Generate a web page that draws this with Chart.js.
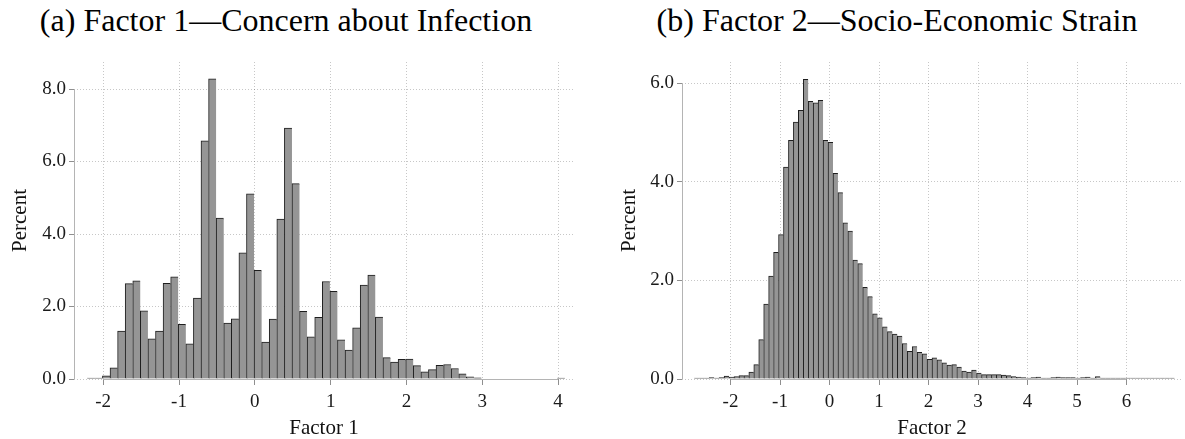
<!DOCTYPE html>
<html>
<head>
<meta charset="utf-8">
<script src="https://cdn.jsdelivr.net/npm/chart.js@4.4.1/dist/chart.umd.min.js"></script>
<style>
html, body { margin: 0; padding: 0; background: #ffffff; }
#wrap { position: relative; width: 1185px; height: 439px; overflow: hidden; background: #fff; }
canvas { position: absolute; top: 0; }
.ttl { position: absolute; top: 0px; font-family: "Liberation Serif", serif; font-size: 32px; line-height: 40px;
       color: #000; white-space: nowrap; transform: translateX(-50%); }
</style>
</head>
<body>
<div id="wrap">
  <div class="ttl" id="t1" style="left:286px"></div>
  <div class="ttl" id="t2" style="left:897px"></div>
  <canvas id="c1" width="590" height="439" style="left:0px"></canvas>
  <canvas id="c2" width="595" height="439" style="left:590px"></canvas>
</div>
<script>
// ---------- data ----------
const titleA = '(a) Factor 1\u2014Concern about Infection';
const titleB = '(b) Factor 2\u2014Socio-Economic Strain';
const xLabelA = 'Factor 1';
const xLabelB = 'Factor 2';
const yLabel = 'Percent';

// bin centres (bin width 0.1)
const factor1Bins = [
  -2.16,-2.06,-1.96,-1.86,-1.76,-1.66,-1.56,-1.46,-1.36,-1.26,
  -1.16,-1.06,-0.96,-0.86,-0.76,-0.66,-0.56,-0.46,-0.36,-0.26,
  -0.16,-0.06,0.04,0.14,0.24,0.34,0.44,0.54,0.64,0.74,
  0.84,0.94,1.04,1.14,1.24,1.34,1.44,1.54,1.64,1.74,
  1.84,1.94,2.04,2.14,2.24,2.34,2.44,2.54,2.64,2.74,
  2.84,2.94,3.04,3.14,3.24,3.34,3.44,3.54,3.64,3.74,
  3.84,3.94,4.04
];
const factor1Pct = [
  0.01,0.02,0.09,0.31,1.32,2.63,2.71,1.88,1.11,1.32,
  2.64,2.82,1.51,0.97,2.23,6.57,8.28,4.44,1.54,1.66,
  3.48,5.11,3.00,1.02,1.65,4.41,6.92,5.39,1.87,1.16,
  1.70,2.69,2.42,1.08,0.80,1.41,2.59,2.87,1.71,0.59,
  0.47,0.54,0.55,0.37,0.20,0.26,0.38,0.40,0.29,0.14,
  0.06,0.03,0,0,0,0,0,0,0,0,
  0,0,0.01
];
const factor2Bins = [
  -2.68,-2.58,-2.48,-2.38,-2.28,-2.18,-2.08,-1.98,-1.88,-1.78,
  -1.68,-1.58,-1.48,-1.38,-1.28,-1.18,-1.08,-0.98,-0.88,-0.78,
  -0.68,-0.58,-0.48,-0.38,-0.28,-0.18,-0.08,0.02,0.12,0.22,
  0.32,0.42,0.52,0.62,0.72,0.82,0.92,1.02,1.12,1.22,
  1.32,1.42,1.52,1.62,1.72,1.82,1.92,2.02,2.12,2.22,
  2.32,2.42,2.52,2.62,2.72,2.82,2.92,3.02,3.12,3.22,
  3.32,3.42,3.52,3.62,3.72,3.82,3.92,4.02,4.12,4.22,
  4.32,4.42,4.52,4.62,4.72,4.82,4.92,5.02,5.12,5.22,
  5.32,5.42,5.52,5.62,5.72,5.82,5.92,6.02,6.12,6.22,
  6.32,6.42,6.52,6.62,6.72,6.82,6.92
];
const factor2Pct = [
  0.01,0.01,0.01,0.03,0.015,0.03,0.06,0.04,0.05,0.07,
  0.07,0.14,0.29,0.80,1.52,2.09,2.57,2.93,4.30,4.84,
  5.21,5.45,6.08,5.63,5.60,5.65,4.84,4.80,4.17,3.78,
  3.17,3.00,2.41,2.34,1.86,1.67,1.32,1.24,1.06,0.96,
  0.91,0.87,0.72,0.56,0.66,0.54,0.51,0.40,0.43,0.39,
  0.33,0.28,0.29,0.24,0.16,0.14,0.18,0.12,0.09,0.09,
  0.09,0.09,0.08,0.07,0.05,0.04,0.03,0.02,0.03,0.04,
  0.02,0.02,0.03,0.04,0.03,0.03,0.03,0.02,0.03,0.04,
  0.02,0.05,0.02,0.02,0.01,0.01,0.02,0.01,0.01,0.01,
  0.01,0.005,0.01,0.005,0.005,0.01,0.005
];
const xTicksA = [-2,-1,0,1,2,3,4];
const yTicksA = [0,2,4,6,8];
const xTicksB = [-2,-1,0,1,2,3,4,5,6];
const yTicksB = [0,2,4,6];

document.getElementById('t1').textContent = titleA;
document.getElementById('t2').textContent = titleB;

// ---------- drawing ----------
const serif = 'Liberation Serif';
const gridColor = 'rgba(0,0,0,0.22)';
const axisColor = '#b4b4b4';

// Stata-style axis lines that run only from the first to the last tick
const axisLines = {
  id: 'axisLines',
  beforeDatasetsDraw(chart) {
    const { ctx, chartArea, scales } = chart;
    const x = scales.x, y = scales.y;
    const xt = x.ticks, yt = y.ticks;
    ctx.save();
    ctx.strokeStyle = axisColor;
    ctx.lineWidth = 1;
    ctx.setLineDash([]);
    const ax = Math.floor(chartArea.left) + 0.5;
    const ay = Math.floor(chartArea.bottom) + 0.5;
    ctx.beginPath();
    ctx.moveTo(ax, y.getPixelForValue(yt[0].value));
    ctx.lineTo(ax, y.getPixelForValue(yt[yt.length - 1].value));
    ctx.moveTo(x.getPixelForValue(xt[0].value), ay);
    ctx.lineTo(x.getPixelForValue(xt[xt.length - 1].value), ay);
    ctx.stroke();
    ctx.restore();
  }
};

function makeChart(id, bins, pct, xRange, yMax, xTicks, yTicks, xLabel, lay) {
  return new Chart(document.getElementById(id), {
    type: 'bar',
    data: {
      datasets: [{
        data: bins.map((b, i) => ({ x: b, y: pct[i] > 0 ? pct[i] : null })),
        backgroundColor: '#959595',
        borderColor: '#1e1e1e',
        borderWidth: { top: 1, left: 1, right: 0, bottom: 0 },
        barPercentage: 1,
        categoryPercentage: 1,
        minBarLength: 1
      }]
    },
    options: {
      responsive: false,
      devicePixelRatio: 1,
      animation: false,
      layout: { padding: { left: 0, right: lay.right, top: 62, bottom: 0 } },
      plugins: { legend: { display: false }, tooltip: { enabled: false }, title: { display: false } },
      scales: {
        x: {
          type: 'linear', min: xRange[0], max: xRange[1], offset: false,
          afterBuildTicks: s => { s.ticks = xTicks.map(v => ({ value: v })); },
          afterFit: s => { s.height = 60; },
          grid: { offset: false, color: gridColor, lineWidth: 1,
                  drawTicks: true, tickLength: 6, tickColor: '#8f8f8f', tickBorderDash: [] },
          border: { display: false, dash: [1, 2] },
          ticks: { color: '#1a1a1a', font: { family: serif, size: 19 }, padding: 6,
                   maxRotation: 0, autoSkip: false, callback: v => String(v) },
          title: { display: true, text: xLabel, color: '#111', font: { family: serif, size: 21, lineHeight: 1 },
                   padding: { top: 0, bottom: 0 } }
        },
        y: {
          type: 'linear', min: 0, max: yMax,
          afterBuildTicks: s => { s.ticks = yTicks.map(v => ({ value: v })); },
          afterFit: s => { s.width = lay.yWidth; },
          grid: { color: gridColor, lineWidth: 1,
                  drawTicks: true, tickLength: 5, tickColor: '#8f8f8f', tickBorderDash: [] },
          border: { display: false, dash: [1, 2] },
          ticks: { color: '#1a1a1a', font: { family: serif, size: 19 }, padding: 3,
                   autoSkip: false, callback: v => v.toFixed(1) },
          title: { display: true, text: yLabel, color: '#111', font: { family: serif, size: 21, lineHeight: 1 },
                   padding: { top: lay.yTitlePad, bottom: 0 } }
        }
      }
    },
    plugins: [axisLines]
  });
}

makeChart('c1', factor1Bins, factor1Pct, [-2.385, 4.21], 8.745, xTicksA, yTicksA, xLabelA,
          { right: 16, yWidth: 74, yTitlePad: 9.5 });
makeChart('c2', factor2Bins, factor2Pct, [-2.98, 7.12], 6.43, xTicksB, yTicksB, xLabelB,
          { right: 3, yWidth: 92, yTitlePad: 28.5 });
</script>
</body>
</html>
